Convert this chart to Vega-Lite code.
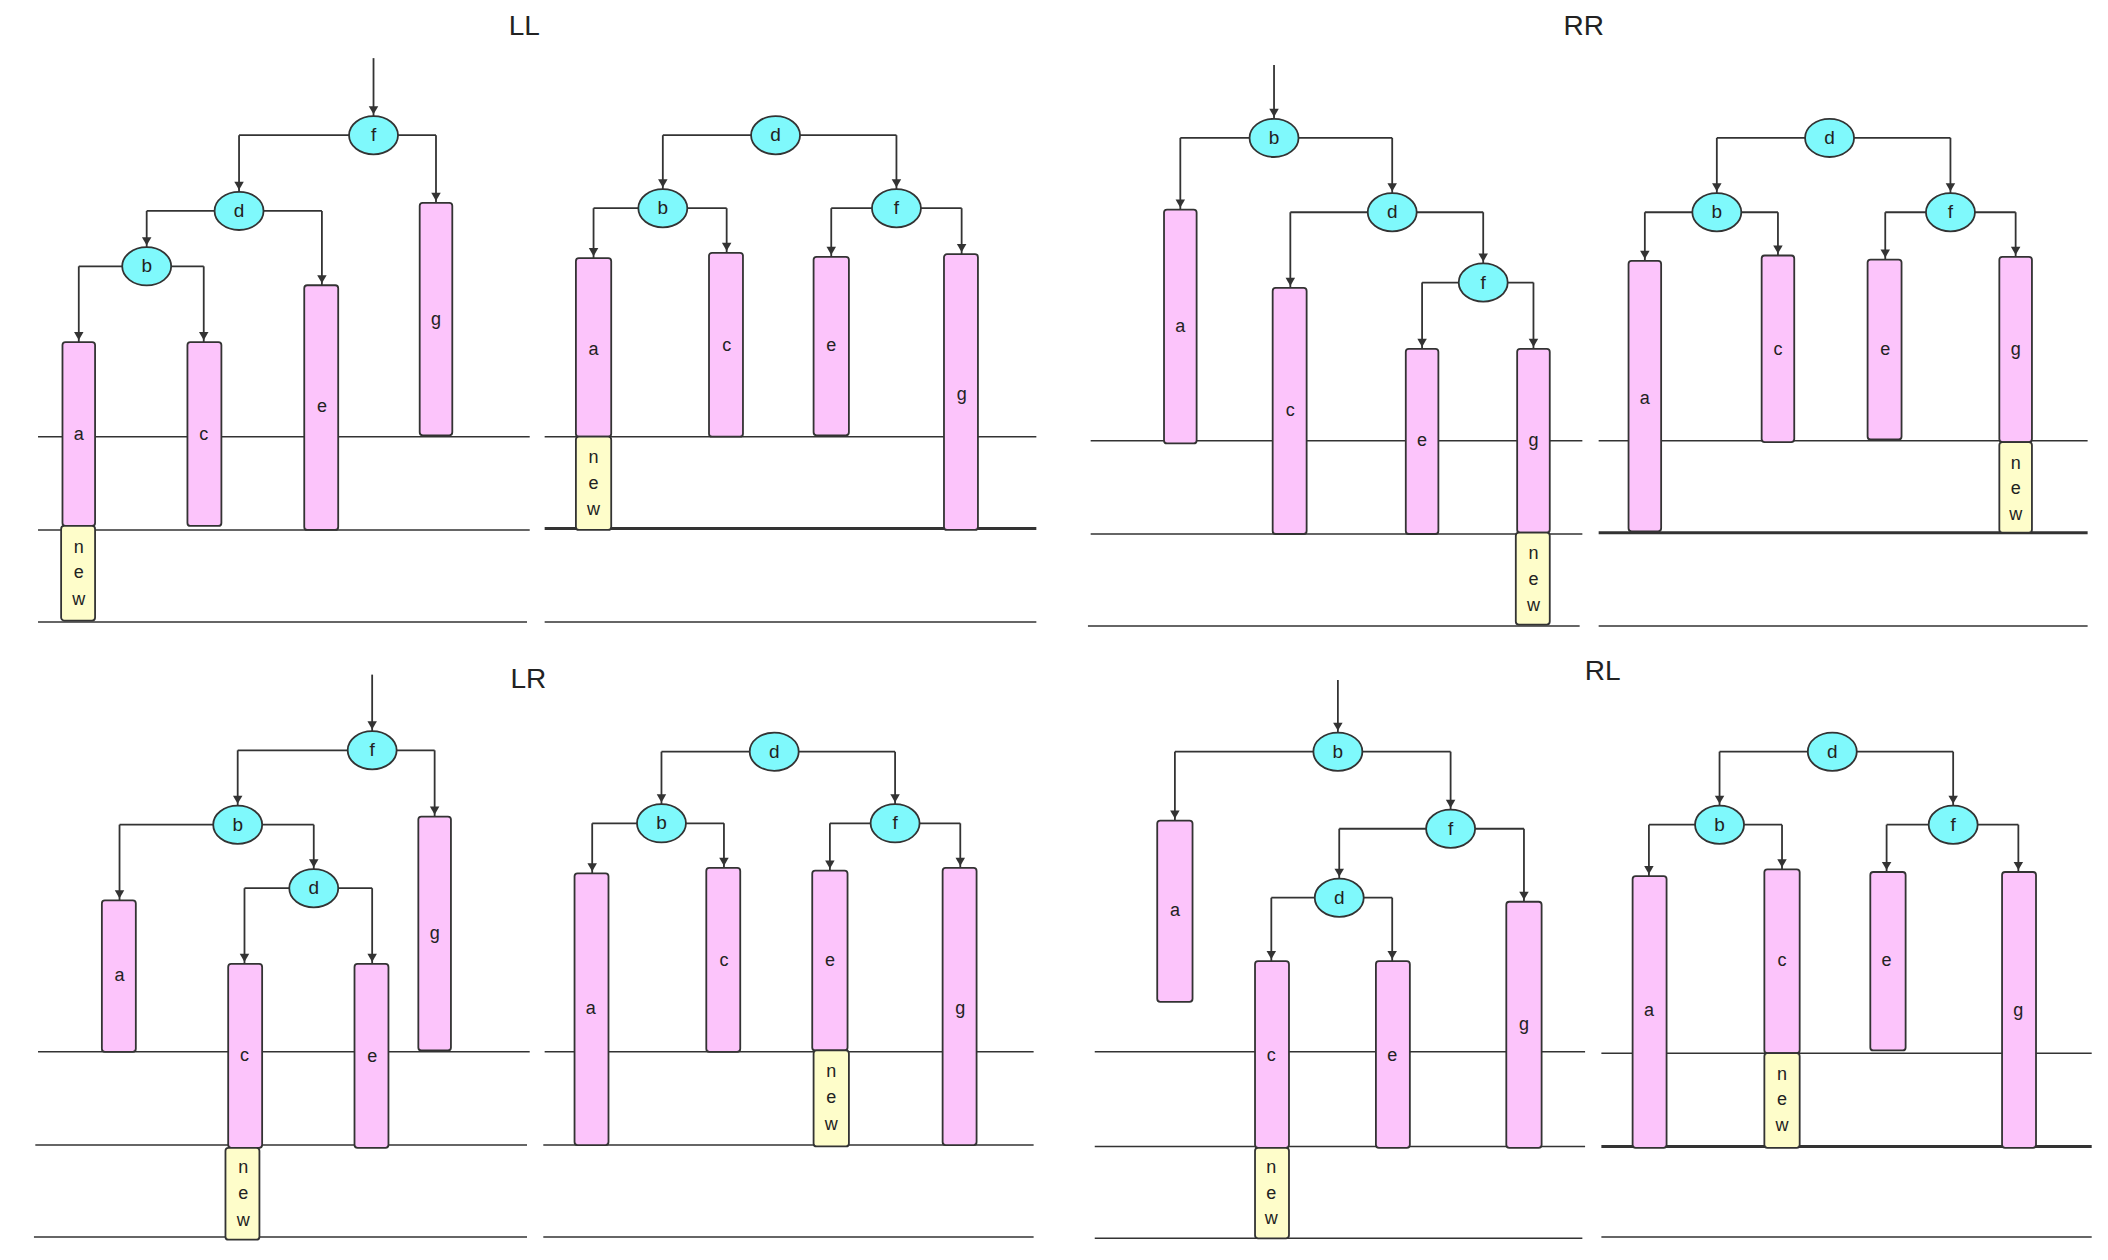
{
  "$schema": "https://vega.github.io/schema/vega-lite/v6.json",
  "width": 2108,
  "height": 1260,
  "autosize": {"type": "fit", "contains": "padding"},
  "padding": 0,
  "background": "white",
  "config": {"view": {"stroke": null}, "text": {"font": "Helvetica, Liberation Sans, Arial"}},
  "datasets": {
    "hlines": [
      {"x": 28, "x2": 390, "y": 323, "w": 1.5}, {"x": 28, "x2": 390, "y": 392, "w": 1.5}, {"x": 28, "x2": 388, "y": 460, "w": 1.5},
      {"x": 401, "x2": 763, "y": 323, "w": 1.5}, {"x": 401, "x2": 763, "y": 391, "w": 3}, {"x": 401, "x2": 763, "y": 460, "w": 1.5},
      {"x": 803, "x2": 1165, "y": 326, "w": 1.5}, {"x": 803, "x2": 1165, "y": 395, "w": 1.5}, {"x": 801, "x2": 1163, "y": 463, "w": 1.5},
      {"x": 1177, "x2": 1537, "y": 326, "w": 1.5}, {"x": 1177, "x2": 1537, "y": 394, "w": 3}, {"x": 1177, "x2": 1537, "y": 463, "w": 1.5},
      {"x": 28, "x2": 390, "y": 778, "w": 1.5}, {"x": 26, "x2": 388, "y": 847, "w": 1.5}, {"x": 25, "x2": 388, "y": 915, "w": 1.5},
      {"x": 401, "x2": 761, "y": 778, "w": 1.5}, {"x": 400, "x2": 761, "y": 847, "w": 1.5}, {"x": 400, "x2": 761, "y": 915, "w": 1.5},
      {"x": 806, "x2": 1167, "y": 778, "w": 1.5}, {"x": 806, "x2": 1167, "y": 848, "w": 1.5}, {"x": 806, "x2": 1165, "y": 916, "w": 1.5},
      {"x": 1179, "x2": 1540, "y": 779, "w": 1.5}, {"x": 1179, "x2": 1540, "y": 848, "w": 3}, {"x": 1179, "x2": 1540, "y": 915, "w": 1.5}
    ],
    "edges": [
      {"px": 275, "py": 43, "cx": 275, "cy": 86}, {"px": 275, "py": 100, "cx": 176, "cy": 142}, {"px": 275, "py": 100, "cx": 321, "cy": 150},
      {"px": 176, "py": 156, "cx": 108, "cy": 183}, {"px": 176, "py": 156, "cx": 237, "cy": 211},
      {"px": 108, "py": 197, "cx": 58, "cy": 253}, {"px": 108, "py": 197, "cx": 150, "cy": 253},
      {"px": 571, "py": 100, "cx": 488, "cy": 140}, {"px": 571, "py": 100, "cx": 660, "cy": 140},
      {"px": 488, "py": 154, "cx": 437, "cy": 191}, {"px": 488, "py": 154, "cx": 535, "cy": 187},
      {"px": 660, "py": 154, "cx": 612, "cy": 190}, {"px": 660, "py": 154, "cx": 708, "cy": 188},
      {"px": 938, "py": 48, "cx": 938, "cy": 88}, {"px": 938, "py": 102, "cx": 869, "cy": 155}, {"px": 938, "py": 102, "cx": 1025, "cy": 143},
      {"px": 1025, "py": 157, "cx": 950, "cy": 213}, {"px": 1025, "py": 157, "cx": 1092, "cy": 195},
      {"px": 1092, "py": 209, "cx": 1047, "cy": 258}, {"px": 1092, "py": 209, "cx": 1129, "cy": 258},
      {"px": 1347, "py": 102, "cx": 1264, "cy": 143}, {"px": 1347, "py": 102, "cx": 1436, "cy": 143},
      {"px": 1264, "py": 157, "cx": 1211, "cy": 193}, {"px": 1264, "py": 157, "cx": 1309, "cy": 189},
      {"px": 1436, "py": 157, "cx": 1388, "cy": 192}, {"px": 1436, "py": 157, "cx": 1484, "cy": 190},
      {"px": 274, "py": 499, "cx": 274, "cy": 541}, {"px": 274, "py": 555, "cx": 175, "cy": 596}, {"px": 274, "py": 555, "cx": 320, "cy": 604},
      {"px": 175, "py": 610, "cx": 88, "cy": 666}, {"px": 175, "py": 610, "cx": 231, "cy": 643},
      {"px": 231, "py": 657, "cx": 180, "cy": 713}, {"px": 231, "py": 657, "cx": 274, "cy": 713},
      {"px": 570, "py": 556, "cx": 487, "cy": 595}, {"px": 570, "py": 556, "cx": 659, "cy": 595},
      {"px": 487, "py": 609, "cx": 436, "cy": 646}, {"px": 487, "py": 609, "cx": 533, "cy": 642},
      {"px": 659, "py": 609, "cx": 611, "cy": 644}, {"px": 659, "py": 609, "cx": 707, "cy": 642},
      {"px": 985, "py": 503, "cx": 985, "cy": 542}, {"px": 985, "py": 556, "cx": 865, "cy": 607}, {"px": 985, "py": 556, "cx": 1068, "cy": 599},
      {"px": 1068, "py": 613, "cx": 986, "cy": 650}, {"px": 1068, "py": 613, "cx": 1122, "cy": 667},
      {"px": 986, "py": 664, "cx": 936, "cy": 711}, {"px": 986, "py": 664, "cx": 1025, "cy": 711},
      {"px": 1349, "py": 556, "cx": 1266, "cy": 596}, {"px": 1349, "py": 556, "cx": 1438, "cy": 596},
      {"px": 1266, "py": 610, "cx": 1214, "cy": 648}, {"px": 1266, "py": 610, "cx": 1312, "cy": 643},
      {"px": 1438, "py": 610, "cx": 1389, "cy": 645}, {"px": 1438, "py": 610, "cx": 1486, "cy": 645}
    ],
    "nodes": [
      {"x": 275, "y": 100, "t": "f"}, {"x": 176, "y": 156, "t": "d"}, {"x": 108, "y": 197, "t": "b"},
      {"x": 571, "y": 100, "t": "d"}, {"x": 488, "y": 154, "t": "b"}, {"x": 660, "y": 154, "t": "f"},
      {"x": 938, "y": 102, "t": "b"}, {"x": 1025, "y": 157, "t": "d"}, {"x": 1092, "y": 209, "t": "f"},
      {"x": 1347, "y": 102, "t": "d"}, {"x": 1264, "y": 157, "t": "b"}, {"x": 1436, "y": 157, "t": "f"},
      {"x": 274, "y": 555, "t": "f"}, {"x": 175, "y": 610, "t": "b"}, {"x": 231, "y": 657, "t": "d"},
      {"x": 570, "y": 556, "t": "d"}, {"x": 487, "y": 609, "t": "b"}, {"x": 659, "y": 609, "t": "f"},
      {"x": 985, "y": 556, "t": "b"}, {"x": 1068, "y": 613, "t": "f"}, {"x": 986, "y": 664, "t": "d"},
      {"x": 1349, "y": 556, "t": "d"}, {"x": 1266, "y": 610, "t": "b"}, {"x": 1438, "y": 610, "t": "f"}
    ],
    "bars": [
      {"x": 46, "x2": 70, "y": 253, "y2": 389, "k": "pink", "t": "a", "lx": 58, "ly": 322}, {"x": 45, "x2": 70, "y": 389, "y2": 459, "k": "new"},
      {"x": 138, "x2": 163, "y": 253, "y2": 389, "k": "pink", "t": "c", "lx": 150, "ly": 322},
      {"x": 224, "x2": 249, "y": 211, "y2": 392, "k": "pink", "t": "e", "lx": 237, "ly": 301},
      {"x": 309, "x2": 333, "y": 150, "y2": 322, "k": "pink", "t": "g", "lx": 321, "ly": 237},
      {"x": 424, "x2": 450, "y": 191, "y2": 323, "k": "pink", "t": "a", "lx": 437, "ly": 259}, {"x": 424, "x2": 450, "y": 323, "y2": 392, "k": "new"},
      {"x": 522, "x2": 547, "y": 187, "y2": 323, "k": "pink", "t": "c", "lx": 535, "ly": 256},
      {"x": 599, "x2": 625, "y": 190, "y2": 322, "k": "pink", "t": "e", "lx": 612, "ly": 256},
      {"x": 695, "x2": 720, "y": 188, "y2": 392, "k": "pink", "t": "g", "lx": 708, "ly": 292},
      {"x": 857, "x2": 881, "y": 155, "y2": 328, "k": "pink", "t": "a", "lx": 869, "ly": 242},
      {"x": 937, "x2": 962, "y": 213, "y2": 395, "k": "pink", "t": "c", "lx": 950, "ly": 304},
      {"x": 1035, "x2": 1059, "y": 258, "y2": 395, "k": "pink", "t": "e", "lx": 1047, "ly": 326},
      {"x": 1117, "x2": 1141, "y": 258, "y2": 394, "k": "pink", "t": "g", "lx": 1129, "ly": 326}, {"x": 1116, "x2": 1141, "y": 394, "y2": 462, "k": "new"},
      {"x": 1199, "x2": 1223, "y": 193, "y2": 393, "k": "pink", "t": "a", "lx": 1211, "ly": 295},
      {"x": 1297, "x2": 1321, "y": 189, "y2": 327, "k": "pink", "t": "c", "lx": 1309, "ly": 259},
      {"x": 1375, "x2": 1400, "y": 192, "y2": 325, "k": "pink", "t": "e", "lx": 1388, "ly": 259},
      {"x": 1472, "x2": 1496, "y": 190, "y2": 327, "k": "pink", "t": "g", "lx": 1484, "ly": 259}, {"x": 1472, "x2": 1496, "y": 327, "y2": 394, "k": "new"},
      {"x": 75, "x2": 100, "y": 666, "y2": 778, "k": "pink", "t": "a", "lx": 88, "ly": 722},
      {"x": 168, "x2": 193, "y": 713, "y2": 849, "k": "pink", "t": "c", "lx": 180, "ly": 781}, {"x": 166, "x2": 191, "y": 849, "y2": 917, "k": "new"},
      {"x": 261, "x2": 286, "y": 713, "y2": 849, "k": "pink", "t": "e", "lx": 274, "ly": 782},
      {"x": 308, "x2": 332, "y": 604, "y2": 777, "k": "pink", "t": "g", "lx": 320, "ly": 691},
      {"x": 423, "x2": 448, "y": 646, "y2": 847, "k": "pink", "t": "a", "lx": 435, "ly": 746},
      {"x": 520, "x2": 545, "y": 642, "y2": 778, "k": "pink", "t": "c", "lx": 533, "ly": 711},
      {"x": 598, "x2": 624, "y": 644, "y2": 777, "k": "pink", "t": "e", "lx": 611, "ly": 711}, {"x": 599, "x2": 625, "y": 777, "y2": 848, "k": "new"},
      {"x": 694, "x2": 719, "y": 642, "y2": 847, "k": "pink", "t": "g", "lx": 707, "ly": 746},
      {"x": 852, "x2": 878, "y": 607, "y2": 741, "k": "pink", "t": "a", "lx": 865, "ly": 674},
      {"x": 924, "x2": 949, "y": 711, "y2": 849, "k": "pink", "t": "c", "lx": 936, "ly": 781}, {"x": 924, "x2": 949, "y": 849, "y2": 916, "k": "new"},
      {"x": 1013, "x2": 1038, "y": 711, "y2": 849, "k": "pink", "t": "e", "lx": 1025, "ly": 781},
      {"x": 1109, "x2": 1135, "y": 667, "y2": 849, "k": "pink", "t": "g", "lx": 1122, "ly": 758},
      {"x": 1202, "x2": 1227, "y": 648, "y2": 849, "k": "pink", "t": "a", "lx": 1214, "ly": 748},
      {"x": 1299, "x2": 1325, "y": 643, "y2": 779, "k": "pink", "t": "c", "lx": 1312, "ly": 711}, {"x": 1299, "x2": 1325, "y": 779, "y2": 849, "k": "new"},
      {"x": 1377, "x2": 1403, "y": 645, "y2": 777, "k": "pink", "t": "e", "lx": 1389, "ly": 711},
      {"x": 1474, "x2": 1499, "y": 645, "y2": 849, "k": "pink", "t": "g", "lx": 1486, "ly": 748}
    ],
    "letters": [
      {"x": 58, "y": 405, "t": "n"}, {"x": 58, "y": 424, "t": "e"}, {"x": 58, "y": 444, "t": "w"},
      {"x": 437, "y": 339, "t": "n"}, {"x": 437, "y": 358, "t": "e"}, {"x": 437, "y": 377, "t": "w"},
      {"x": 1129, "y": 410, "t": "n"}, {"x": 1129, "y": 429, "t": "e"}, {"x": 1129, "y": 448, "t": "w"},
      {"x": 1484, "y": 343, "t": "n"}, {"x": 1484, "y": 362, "t": "e"}, {"x": 1484, "y": 381, "t": "w"},
      {"x": 179, "y": 864, "t": "n"}, {"x": 179, "y": 883, "t": "e"}, {"x": 179, "y": 903, "t": "w"},
      {"x": 612, "y": 793, "t": "n"}, {"x": 612, "y": 812, "t": "e"}, {"x": 612, "y": 832, "t": "w"},
      {"x": 936, "y": 864, "t": "n"}, {"x": 936, "y": 883, "t": "e"}, {"x": 936, "y": 902, "t": "w"},
      {"x": 1312, "y": 795, "t": "n"}, {"x": 1312, "y": 814, "t": "e"}, {"x": 1312, "y": 833, "t": "w"}
    ],
    "titles": [
      {"x": 386, "y": 20, "t": "LL"}, {"x": 1166, "y": 20, "t": "RR"},
      {"x": 389, "y": 503, "t": "LR"}, {"x": 1180, "y": 497, "t": "RL"}
    ]
  },
  "encoding": {
    "x": {"type": "quantitative", "scale": {"domain": [0, 1552]}, "axis": null},
    "y": {"type": "quantitative", "scale": {"domain": [932, 0]}, "axis": null}
  },
  "layer": [
    {
      "data": {"name": "hlines"},
      "mark": {"type": "rule", "color": "#333"},
      "encoding": {
        "x": {"field": "x", "type": "quantitative", "scale": {"domain": [0, 1552]}, "axis": null},
        "x2": {"field": "x2"},
        "y": {"field": "y", "type": "quantitative", "scale": {"domain": [932, 0]}, "axis": null},
        "strokeWidth": {"field": "w", "type": "quantitative", "scale": null}
      }
    },
    {
      "data": {"name": "edges"},
      "mark": {"type": "rule", "color": "#333", "strokeWidth": 1.8},
      "encoding": {
        "x": {"field": "px", "type": "quantitative"},
        "x2": {"field": "cx"},
        "y": {"field": "py", "type": "quantitative"}
      }
    },
    {
      "data": {"name": "edges"},
      "mark": {"type": "rule", "color": "#333", "strokeWidth": 1.8},
      "encoding": {
        "x": {"field": "cx", "type": "quantitative"},
        "y": {"field": "py", "type": "quantitative"},
        "y2": {"field": "cy"}
      }
    },
    {
      "data": {"name": "edges"},
      "mark": {"type": "point", "shape": "triangle-down", "filled": true, "color": "#333", "size": 90, "yOffset": -6, "opacity": 1},
      "encoding": {
        "x": {"field": "cx", "type": "quantitative"},
        "y": {"field": "cy", "type": "quantitative"}
      }
    },
    {
      "data": {"name": "bars"},
      "mark": {"type": "rect", "stroke": "#333", "strokeWidth": 1.8, "cornerRadius": 3},
      "encoding": {
        "x": {"field": "x", "type": "quantitative"},
        "x2": {"field": "x2"},
        "y": {"field": "y", "type": "quantitative"},
        "y2": {"field": "y2"},
        "fill": {"field": "k", "type": "nominal", "scale": {"domain": ["pink", "new"], "range": ["#fcc4fb", "#fefdca"]}, "legend": null}
      }
    },
    {
      "data": {"name": "bars"},
      "transform": [{"filter": "datum.k == 'pink'"}],
      "mark": {"type": "text", "fontSize": 18, "color": "#222"},
      "encoding": {
        "x": {"field": "lx", "type": "quantitative"},
        "y": {"field": "ly", "type": "quantitative"},
        "text": {"field": "t"}
      }
    },
    {
      "data": {"name": "letters"},
      "mark": {"type": "text", "fontSize": 18, "color": "#222"},
      "encoding": {
        "x": {"field": "x", "type": "quantitative"},
        "y": {"field": "y", "type": "quantitative"},
        "text": {"field": "t"}
      }
    },
    {
      "data": {"name": "nodes"},
      "mark": {"type": "point", "shape": "M -1 0 A 1 0.78 0 1 0 1 0 A 1 0.78 0 1 0 -1 0 Z", "filled": true, "fill": "#7ff9fc", "stroke": "#333", "strokeWidth": 1.8, "size": 2400, "opacity": 1},
      "encoding": {
        "x": {"field": "x", "type": "quantitative"},
        "y": {"field": "y", "type": "quantitative"}
      }
    },
    {
      "data": {"name": "nodes"},
      "mark": {"type": "text", "fontSize": 19, "color": "#222"},
      "encoding": {
        "x": {"field": "x", "type": "quantitative"},
        "y": {"field": "y", "type": "quantitative"},
        "text": {"field": "t"}
      }
    },
    {
      "data": {"name": "titles"},
      "mark": {"type": "text", "fontSize": 28, "color": "#222"},
      "encoding": {
        "x": {"field": "x", "type": "quantitative"},
        "y": {"field": "y", "type": "quantitative"},
        "text": {"field": "t"}
      }
    }
  ]
}
